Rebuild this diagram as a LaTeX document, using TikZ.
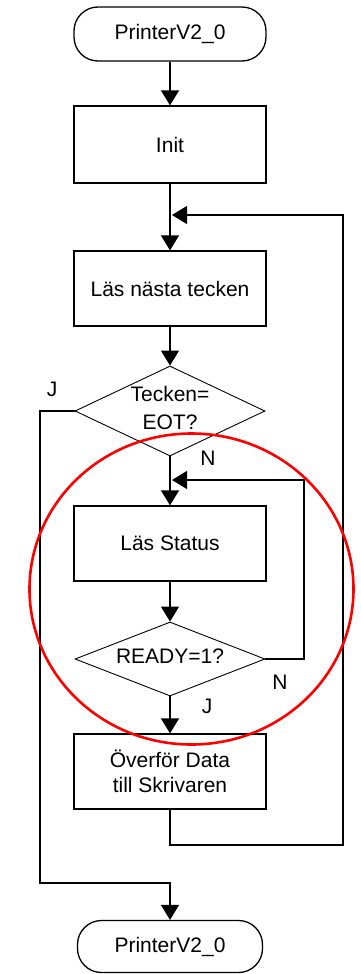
\documentclass[tikz,border=0pt]{standalone}
\usepackage{fontspec}
\setmainfont{Liberation Sans}
\usetikzlibrary{shapes.geometric,arrows.meta}
\begin{document}
\begin{tikzpicture}[x=1pt,y=-1pt,
  box/.style={draw, line width=1.3pt, minimum width=192pt, inner sep=0pt, font=\fontsize{21}{25}\selectfont, align=center},
  term/.style={box, rounded corners=24pt},
  cond/.style={draw, diamond, line width=0.9pt, inner sep=0pt},
  ctext/.style={font=\fontsize{21}{28}\selectfont, align=center, inner sep=0pt},
  lbl/.style={font=\fontsize{21}{22}\selectfont, inner sep=0pt},
  flow/.style={line width=1.3pt},
  arr/.style={flow, -{Triangle[length=15pt,width=18pt]}},
  ring/.style={draw=red, line width=2.6pt}]
\useasboundingbox (0,0) rectangle (360,974);

% process steps
\node[term, minimum width=192pt, minimum height=54pt] (start) at (170,34) {PrinterV2\_0};
\node[box, minimum height=77pt] (init) at (170,144.5) {Init};
\node[box, minimum height=75pt] (read) at (170,288.5) {Läs nästa tecken};
\node[cond, minimum width=190pt, minimum height=90pt] (eot) at (170,411) {};
\node[ctext] (eottext) at (170,408) {Tecken=\\EOT?};
\node[box, minimum height=75pt] (status) at (170,543.5) {Läs Status};
\node[cond, minimum width=190pt, minimum height=74pt] (ready) at (170,659) {};
\node[ctext] (readytext) at (170,656) {READY=1?};
\node[box, minimum height=75pt] (xfer) at (170,771.5) {Överför Data\\till Skrivaren};
\node[term, minimum width=185pt, minimum height=52pt] (stop) at (170,946.5) {PrinterV2\_0};

% branch labels
\node[lbl] (jeot) at (52,389) {J};
\node[lbl] (neot) at (208,458) {N};
\node[lbl] (nready) at (280,682) {N};
\node[lbl] (jready) at (207,706) {J};

% corner points of the loops
\coordinate (outerin) at (172,215);
\coordinate (innerin) at (172,480);
\coordinate (outtop) at (343,215);
\coordinate (outbot) at (343,845);
\coordinate (intop) at (304,480);
\coordinate (eotleft) at (40,411);
\coordinate (exitbot) at (40,883);

% main line
\draw[arr] (start) -- (init);
\draw[arr] (init) -- (read);
\draw[arr] (read) -- (eot.north);
\draw[arr] (eot.south) -- (status);
\draw[arr] (status) -- (ready.north);
\draw[arr] (ready.south) -- (xfer);

% outer loop back to reading the next character
\draw[arr] (xfer.south) |- (outbot) -- (outtop) -- (outerin);
% waiting loop on the status
\draw[arr] (ready.east) -| (intop) -- (innerin);
% end of text exit
\draw[arr] (eot.west) -- (eotleft) -- (exitbot) -| (stop.north);

% highlight ring
\draw[ring] (191.5,589) ellipse [x radius=162, y radius=155.5];
\end{tikzpicture}
\end{document}
